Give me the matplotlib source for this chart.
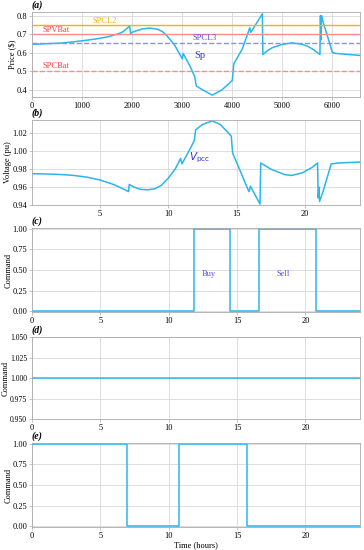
import matplotlib
matplotlib.use("Agg")
import matplotlib.pyplot as plt
import numpy as np

plt.rcParams['font.family'] = ['Liberation Serif', 'DejaVu Serif']
plt.rcParams['font.size'] = 6

# ---- data ----
sp_x = [0, 600, 1000, 1300, 1500, 1700, 1800, 1950, 1970, 2000, 2100, 2200, 2350, 2500, 2600,
        2700, 2850, 3000, 3020, 3150, 3250, 3280, 3400, 3600, 3800, 4000, 4030, 4200, 4350,
        4370, 4600, 4610, 4700, 4800, 5000, 5200, 5400, 5500, 5600, 5750, 5760, 5770, 5780,
        5800, 5820, 6000, 6100, 6550]
sp_y = [0.645, 0.652, 0.664, 0.675, 0.685, 0.70, 0.71, 0.743, 0.704, 0.71, 0.72, 0.728, 0.733,
        0.727, 0.715, 0.69, 0.64, 0.567, 0.595, 0.53, 0.47, 0.42, 0.40, 0.37, 0.40, 0.45,
        0.54, 0.62, 0.735, 0.71, 0.81, 0.59, 0.61, 0.627, 0.645, 0.653, 0.645, 0.635, 0.62,
        0.59, 0.80, 0.67, 0.80, 0.78, 0.76, 0.60, 0.595, 0.585]
ref_names = ['SPCL2', 'SPVBat', 'SPCL3', 'SPCBat']
ref_vals = [0.75, 0.70, 0.65, 0.50]

v_t = [0, 1, 2, 3, 4, 5, 6, 6.5, 7.1, 7.15, 7.5, 8, 8.5, 9, 9.5, 10, 10.5, 10.9, 11.0, 11.5,
       11.9, 12.0, 12.5, 13.2, 13.8, 14.3, 14.6, 14.7, 15.2, 15.8, 15.9, 16.0, 16.7, 16.75,
       17.5, 18.5, 19.0, 19.8, 20.5, 20.9, 20.95, 21.0, 21.05, 21.3, 21.9, 22.5, 24]
v_pcc = [0.975, 0.9747, 0.9742, 0.9732, 0.9713, 0.968, 0.963, 0.9595, 0.955, 0.963, 0.960,
         0.9575, 0.957, 0.958, 0.962, 0.970, 0.980, 0.992, 0.986, 1.000, 1.012, 1.024, 1.030,
         1.034, 1.030, 1.022, 1.017, 0.998, 0.980, 0.958, 0.955, 0.961, 0.941, 0.987, 0.980,
         0.974, 0.973, 0.976, 0.982, 0.987, 0.948, 0.960, 0.944, 0.955, 0.986, 0.987, 0.988]

c_t = [0, 11.83, 14.5, 16.6, 20.75, 24]
c_v = [0, 1, 0, 1, 0, 0]
d_t = [0, 24]
d_v = [1, 1]
e_t = [0, 6.95, 10.78, 15.73, 24]
e_v = [1, 0, 1, 0, 0]

blue = '#29b6f0'
fig = plt.figure(figsize=(3.64, 5.5), dpi=100)
W, H = 364, 550
L, R = 32, 360
def ax_at(top, bottom):
    return fig.add_axes([L / W, 1 - bottom / H, (R - L) / W, (bottom - top) / H])

axes = [ax_at(12, 97), ax_at(120, 205), ax_at(228, 312), ax_at(337, 419), ax_at(443, 527)]
labels = ['(a)', '(b)', '(c)', '(d)', '(e)']
ylab_px = [16, 12, 13, 10, 13]
for ax, lab in zip(axes, labels):
    ax.grid(True, color='#d8d8d8', lw=0.6)
    ax.set_axisbelow(True)
    for s in ax.spines.values():
        s.set_color('#aaaaaa')
        s.set_linewidth(0.6)
    ax.tick_params(length=2, width=0.5, color='#aaaaaa', pad=1.5, labelsize=6)
    ax.text(0.0, 1.02, lab, transform=ax.transAxes, fontweight='bold', fontstyle='italic',
            fontsize=7, ha='left', va='bottom')

# (a)
ax = axes[0]
ax.plot(sp_x, sp_y, color=blue, lw=1.1)
ref_colors = ['#ffb000', '#ff8a8a', '#8c8cff', '#ff8a8a']
ref_styles = ['-', '-', '--', '--']
txt_colors = ['#f5b000', '#ff4040', '#5050ff', '#ff4040']
txt_pos = [(1200, 0.752), (200, 0.702), (3200, 0.655), (200, 0.505)]
for v, c, ls, n, tc, (tx, ty) in zip(ref_vals, ref_colors, ref_styles, ref_names, txt_colors, txt_pos):
    ax.axhline(v, color=c, ls=ls, lw=1.0)
    ax.text(tx, ty, n, color=tc, fontsize=6, ha='left', va='bottom')
ax.text(3250, 0.56, 'Sp', color='#3030e0', fontsize=7.5, ha='left', va='bottom')
ax.set_xlim(0, 6550)
ax.set_ylim(0.36, 0.82)
ax.set_yticks([0.4, 0.5, 0.6, 0.7, 0.8])
ax.set_xticks(range(0, 7000, 1000))
ax.set_ylabel('Price ($)')

# (b)
ax = axes[1]
ax.plot(v_t, v_pcc, color=blue, lw=1.1)
ax.text(11.55, 0.985, r'$V_{\mathrm{pcc}}$', color='#3030e0', fontsize=7.5, ha='left', va='bottom')
ax.set_xlim(0.05, 24)
ax.set_ylim(0.94, 1.035)
ax.set_yticks([0.94, 0.96, 0.98, 1.00, 1.02])
ax.set_yticklabels(['0.94', '0.96', '0.98', '1.00', '1.02'])
ax.set_xticks([5, 10, 15, 20])
ax.set_ylabel('Voltage (pu)')

# (c)
ax = axes[2]
ax.plot(c_t, c_v, color=blue, lw=1.1, drawstyle='steps-post')
ax.text(12.9, 0.45, 'Buy', color='#5050ff', fontsize=6, ha='center', va='center')
ax.text(18.4, 0.45, 'Sell', color='#5050ff', fontsize=6, ha='center', va='center')
ax.set_xlim(0, 24)
ax.set_ylim(-0.01, 1.01)
ax.set_yticks([0, 0.25, 0.5, 0.75, 1.0])
ax.set_yticklabels(['0.00', '0.25', '0.50', '0.75', '1.00'])
ax.set_xticks([0, 5, 10, 15, 20])
ax.set_ylabel('Command')

# (d)
ax = axes[3]
ax.plot(d_t, d_v, color=blue, lw=1.1)
ax.set_xlim(0, 24)
ax.set_ylim(0.95, 1.05)
ax.set_yticks([0.95, 0.975, 1.0, 1.025, 1.05])
ax.set_yticklabels(['0.950', '0.975', '1.000', '1.025', '1.050'], fontsize=5.5)
ax.set_xticks([0, 5, 10, 15, 20])
ax.set_ylabel('Command')

# (e)
ax = axes[4]
ax.plot(e_t, e_v, color=blue, lw=1.1, drawstyle='steps-post')
ax.set_xlim(0, 24)
ax.set_ylim(-0.01, 1.01)
ax.set_yticks([0, 0.25, 0.5, 0.75, 1.0])
ax.set_yticklabels(['0.00', '0.25', '0.50', '0.75', '1.00'])
ax.set_xticks([0, 5, 10, 15, 20])
ax.set_ylabel('Command')
ax.set_xlabel('Time (hours)', labelpad=1)

for ax, px in zip(axes, ylab_px):
    ax.yaxis.set_label_coords((px - L) / (R - L), 0.5)

fig.savefig('out.png', dpi=100)
